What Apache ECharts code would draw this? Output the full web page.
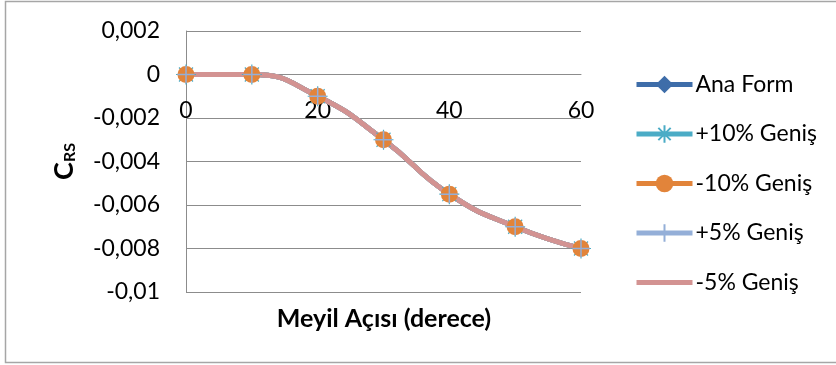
<!DOCTYPE html>
<html>
<head>
<meta charset="utf-8">
<script src="https://cdn.jsdelivr.net/npm/echarts@6/dist/echarts.min.js"></script>
<style>
  html, body { margin: 0; padding: 0; background: #fff; }
  #chart { width: 836px; height: 365px; }
</style>
</head>
<body>
<div id="chart"></div>
<script>
// Meyil açısı (derece)
const angles = [0, 10, 20, 30, 40, 50, 60];
// C_RS values for each form variant
const anaForm   = [0, 0, -0.001, -0.003, -0.0055, -0.007, -0.008];
const plus10    = [0, 0, -0.001, -0.003, -0.0055, -0.007, -0.008];
const minus10   = [0, 0, -0.001, -0.003, -0.0055, -0.007, -0.008];
const plus5     = [0, 0, -0.001, -0.003, -0.0055, -0.007, -0.008];
const minus5    = [0, 0, -0.001, -0.003, -0.0055, -0.007, -0.008];
const seriesNames = ['Ana Form', '+10% Geniş', '-10% Geniş', '+5% Geniş', '-5% Geniş'];

const FONT = 'Lato, "Liberation Sans", sans-serif';
const pairs = v => angles.map((a, i) => [a, v[i]]);
const fmt = v => {
  if (Math.abs(v) < 1e-12) return '0';
  return String(Number(v.toFixed(4))).replace('.', ',');
};

const asterisk = 'path://M0,-10L0,10M-10,0L10,0M-7,-7L7,7M-7,7L7,-7';
const plus = 'path://M0,-10L0,10M-10,0L10,0';

function lineSeries(name, data, color, symbol, size, extra) {
  return Object.assign({
    name, type: 'line', data: pairs(data), smooth: true,
    symbol, symbolSize: size,
    lineStyle: { color, width: 5 },
    itemStyle: { color },
    emphasis: { disabled: true }
  }, extra || {});
}

const chart = echarts.init(document.getElementById('chart'), null, { renderer: 'canvas' });
chart.setOption({
  animation: false,
  backgroundColor: '#fff',
  textStyle: { fontFamily: FONT },
  grid: { left: 186, right: 255, top: 31, bottom: 73, containLabel: false },
  xAxis: {
    type: 'value', min: 0, max: 60, interval: 20,
    position: 'bottom', offset: -218,
    axisLine: { onZero: false, lineStyle: { color: '#8c8c8c', width: 1 } },
    axisTick: { show: false },
    splitLine: { show: false },
    axisLabel: { color: '#000', fontSize: 23, fontFamily: FONT, margin: 25 }
  },
  yAxis: {
    type: 'value', min: -0.01, max: 0.002, interval: 0.002,
    axisLine: { show: true, lineStyle: { color: '#8c8c8c', width: 1 } },
    axisTick: { show: false },
    splitLine: { show: true, lineStyle: { color: '#8c8c8c', width: 1 } },
    axisLabel: { color: '#000', fontSize: 23, fontFamily: FONT, margin: 26, formatter: fmt },
    name: '{c|C}{s|RS}',
    nameLocation: 'middle', nameRotate: 90, nameGap: 108,
    nameTextStyle: {
      rich: {
        c: { fontSize: 27, fontWeight: 'bold', color: '#000', fontFamily: FONT },
        s: { fontSize: 16, fontWeight: 'bold', color: '#000', fontFamily: FONT, verticalAlign: 'bottom' }
      }
    }
  },
  legend: {
    orient: 'vertical', left: 634, top: 73, padding: 0,
    itemWidth: 56, itemHeight: 22, itemGap: 26.5,
    lineStyle: { width: 5 },
    textStyle: { fontSize: 23, lineHeight: 22, color: '#000', fontFamily: FONT, padding: [0, 0, 0, -2] },
    data: seriesNames
  },
  graphic: [
    { type: 'rect', shape: { x: 5.5, y: 1.5, width: 840, height: 361 },
      style: { fill: 'none', stroke: '#a6a6a6', lineWidth: 1.5 }, z: -1 },
    { type: 'text', x: 384, y: 319,
      style: { text: 'Meyil Açısı (derece)', font: 'bold 25px ' + FONT, fill: '#000', align: 'center', verticalAlign: 'middle' } }
  ],
  series: [
    lineSeries(seriesNames[0], anaForm, '#3E6DA9', 'diamond', 15),
    lineSeries(seriesNames[1], plus10, '#4BACC6', asterisk, 20,
      { itemStyle: { color: 'none', borderColor: '#4BACC6', borderWidth: 1.2 } }),
    lineSeries(seriesNames[2], minus10, '#E2843A', 'circle', 17),
    lineSeries(seriesNames[3], plus5, '#94AFD8', plus, 17,
      { itemStyle: { color: 'none', borderColor: '#94AFD8', borderWidth: 1.5 } }),
    lineSeries(seriesNames[4], minus5, '#D39392', 'circle', 1,
      { showSymbol: false, itemStyle: { color: '#D39392', opacity: 0 } })
  ]
});
</script>
</body>
</html>
